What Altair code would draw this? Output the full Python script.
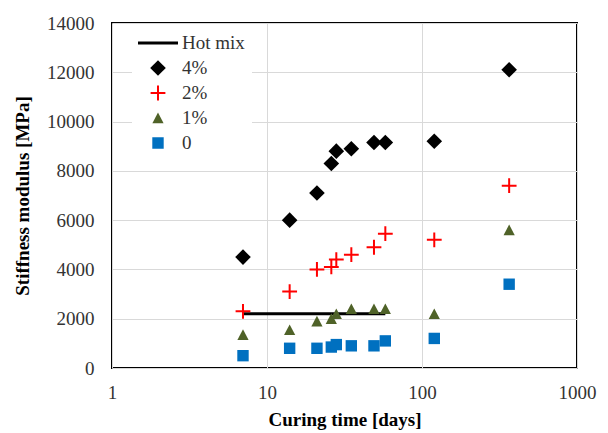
import altair as alt
import pandas as pd

# ---- data ----
days = [7, 14, 21, 26, 28, 35, 49, 58, 120, 365]
stiffness_4pct = [4500, 6000, 7100, 8300, 8800, 8900, 9150, 9150, 9200, 12100]
stiffness_2pct = [2300, 3100, 4000, 4100, 4400, 4600, 4900, 5450, 5200, 7400]
stiffness_1pct = [1350, 1550, 1900, 2000, 2200, 2400, 2400, 2400, 2200, 5600]
stiffness_0pct = [500, 800, 800, 850, 950, 900, 900, 1100, 1200, 3400]

hot_mix_days = [7, 58]
hot_mix_stiffness = [2200, 2200]

series_labels = ["Hot mix", "4%", "2%", "1%", "0"]
series_colors = ["#000000", "#000000", "#ff0000", "#4f6228", "#0070c0"]
# custom symbol paths (unit = 20 px at size 1600)
series_shapes = [
    "M-1,-0.075L1,-0.075L1,0.075L-1,0.075Z",
    "M0,-0.39L0.39,0L0,0.39L-0.39,0Z",
    "M-0.37,-0.05L-0.05,-0.05L-0.05,-0.37L0.05,-0.37L0.05,-0.05L0.37,-0.05L0.37,0.05L0.05,0.05L0.05,0.37L-0.05,0.37L-0.05,0.05L-0.37,0.05Z",
    "M0,-0.27L0.28,0.26L-0.28,0.26Z",
    "M-0.285,-0.285L0.285,-0.285L0.285,0.285L-0.285,0.285Z",
]

x_ticks = [1, 10, 100, 1000]
y_ticks = [0, 2000, 4000, 6000, 8000, 10000, 12000, 14000]

rows = []
for name, vals in [("4%", stiffness_4pct), ("2%", stiffness_2pct),
                   ("1%", stiffness_1pct), ("0", stiffness_0pct)]:
    for d, v in zip(days, vals):
        rows.append({"days": d, "stiffness": v, "series": name})
pts_df = pd.DataFrame(rows)
hot_df = pd.DataFrame({"days": hot_mix_days, "stiffness": hot_mix_stiffness})

FONT = "Liberation Serif"

x_enc = alt.X(
    "days:Q",
    scale=alt.Scale(type="log", domain=[1, 1000]),
    axis=alt.Axis(
        values=x_ticks, format="d", title="Curing time [days]",
        grid=True, gridColor="#d9d9d9", gridWidth=1,
        ticks=False, tickSize=0, domain=False,
        labelFont=FONT, labelFontSize=19, labelColor="#333333",
        labelPadding=15, labelFlush=False, labelOverlap=False,
        titleFont=FONT, titleFontSize=19, titleFontWeight="bold",
        titleColor="#000000", titlePadding=8,
    ),
)
y_enc = alt.Y(
    "stiffness:Q",
    scale=alt.Scale(domain=[0, 14000]),
    axis=alt.Axis(
        values=y_ticks, format="d", title="Stiffness modulus [MPa]",
        grid=True, gridColor="#d9d9d9", gridWidth=1,
        ticks=False, tickSize=0, domain=False,
        labelFont=FONT, labelFontSize=19, labelColor="#333333",
        labelPadding=18, labelFlush=False, labelOverlap=False,
        titleFont=FONT, titleFontSize=19, titleFontWeight="bold",
        titleColor="#000000", titlePadding=14,
    ),
)

legend = alt.Legend(
    title=None, orient="none", legendX=20, legendY=1.5,
    fillColor="white", padding=6, strokeColor="white",
    labelFont=FONT, labelFontSize=19, labelColor="#333333",
    labelOffset=4, symbolSize=1600, symbolStrokeWidth=0,
    clipHeight=25, rowPadding=0, symbolOpacity=1,
)

line = alt.Chart(hot_df).mark_line(color="black", strokeWidth=3).encode(
    x=x_enc, y=y_enc
)

points = alt.Chart(pts_df).mark_point(
    filled=True, size=1600, strokeWidth=0, opacity=1
).encode(
    x=x_enc,
    y=y_enc,
    color=alt.Color("series:N",
                    scale=alt.Scale(domain=series_labels, range=series_colors),
                    legend=legend),
    shape=alt.Shape("series:N",
                    scale=alt.Scale(domain=series_labels, range=series_shapes),
                    legend=legend),
)

chart = alt.layer(line, points).properties(
    width=465,
    height=345,
    autosize=alt.AutoSizeParams(type="none"),
    padding={"left": 104, "top": 15, "right": 23, "bottom": 65},
    background="white",
).configure_view(stroke="black", strokeWidth=2)

chart.save("out.html", embed_options={"renderer": "svg", "actions": False})
